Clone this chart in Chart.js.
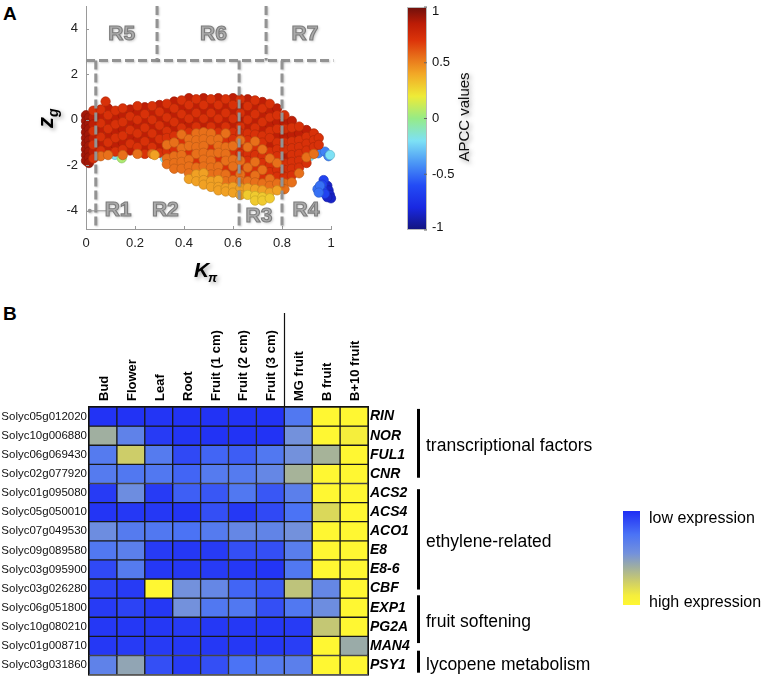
<!DOCTYPE html>
<html>
<head>
<meta charset="utf-8">
<script src="https://cdn.jsdelivr.net/npm/chart.js@4.4.1/dist/chart.umd.min.js"></script>
<style>
  html, body { margin: 0; padding: 0; background: #fff; }
  #page { position: relative; width: 773px; height: 685px; overflow: hidden; font-family: "Liberation Sans", Arial, sans-serif; }
  canvas { position: absolute; }
  .panel { position: absolute; font-weight: bold; font-size: 19px; line-height: 1; color: #000; }
</style>
</head>
<body>
<div id="page">
  <div class="panel" style="left:3px; top:4px">A</div>
  <div class="panel" style="left:3px; top:304px">B</div>
  <canvas id="scatter" width="500" height="290" style="left:0; top:0"></canvas>
  <canvas id="heat" width="773" height="385" style="left:0; top:300px"></canvas>
</div>
<script>
// ---- Panel A data: K_pi (x), z_g (y), grouped by APCC colour ----
const kTicks = [0, 0.2, 0.4, 0.6, 0.8, 1];
const zTicks = [-4, -2, 0, 2, 4];
const apccTicks = [1, 0.5, 0, -0.5, -1];

const wallPts = [
  [0, 0.2], [0, -0.05], [0, -0.3], [0, -0.55], [0, -0.8], [0, -1.05], [0, -1.3], [0, -1.55], [0, -1.8],
  [0.012, 0.1], [0.012, -0.15], [0.012, -0.4], [0.012, -0.65], [0.012, -0.9], [0.012, -1.15], [0.012, -1.4], [0.012, -1.65], [0.012, -1.9]
];
const deepRedPts = [
  [0.03, 0.1], [0.03, -0.2], [0.03, -0.8], [0.03, -1.4],
  [0.06, 0.15], [0.06, -0.45], [0.06, -1.05],
  [0.09, 0.5], [0.09, -0.1], [0.09, -0.7], [0.09, -1.3],
  [0.12, 0.1], [0.12, -0.5], [0.12, -1.1],
  [0.15, 0.2], [0.15, -0.4], [0.15, -1.0],
  [0.18, 0.45], [0.18, -0.15], [0.18, -0.75], [0.18, -1.35],
  [0.21, 0.3], [0.21, -0.3], [0.21, -0.9],
  [0.24, 0.55], [0.24, -0.05], [0.24, -0.65], [0.24, -1.25],
  [0.27, 0.3], [0.27, -0.3], [0.27, -0.9],
  [0.30, 0.65], [0.30, 0.05], [0.30, -0.55], [0.30, -1.15],
  [0.33, 0.4], [0.33, -0.2],
  [0.36, 0.8], [0.36, 0.2], [0.36, -0.4],
  [0.39, 0.55], [0.39, -0.05],
  [0.42, 0.95], [0.42, 0.35], [0.42, -0.25],
  [0.45, 0.6], [0.45, 0.0],
  [0.48, 0.95], [0.48, 0.35], [0.48, -0.25],
  [0.51, 0.6], [0.51, 0.0],
  [0.54, 0.95], [0.54, 0.35], [0.54, -0.25],
  [0.57, 0.6], [0.57, 0.0],
  [0.60, 0.95], [0.60, 0.35], [0.60, -0.25],
  [0.63, 0.6], [0.63, 0.0],
  [0.66, 0.9], [0.66, 0.3], [0.66, -0.3],
  [0.69, 0.55], [0.69, -0.05],
  [0.72, 0.78], [0.72, 0.2], [0.72, -0.4],
  [0.75, 0.4], [0.75, -0.2], [0.75, -1.1],
  [0.78, 0.5], [0.78, -0.1], [0.78, -0.7],
  [0.81, -0.1], [0.81, -0.7], [0.81, -1.6],
  [0.84, -0.05], [0.84, -0.65],
  [0.87, -0.6],
  [0.90, -0.45]
];
const redPts = [
  [0.03, 0.4], [0.03, -0.5], [0.03, -1.1], [0.03, -1.7],
  [0.06, 0.45], [0.06, -0.15], [0.06, -0.75], [0.06, -1.35],
  [0.08, 0.8],
  [0.09, 0.2], [0.09, -0.4], [0.09, -1.0],
  [0.12, 0.4], [0.12, -0.2], [0.12, -0.8], [0.12, -1.4],
  [0.15, 0.5], [0.15, -0.1], [0.15, -0.7], [0.15, -1.3],
  [0.18, 0.15], [0.18, -0.45], [0.18, -1.05],
  [0.21, 0.6], [0.21, 0.0], [0.21, -0.6], [0.21, -1.2],
  [0.24, 0.25], [0.24, -0.35], [0.24, -0.95], [0.24, -1.5],
  [0.27, 0.6], [0.27, 0.0], [0.27, -0.6], [0.27, -1.2],
  [0.30, 0.35], [0.30, -0.25], [0.30, -0.85], [0.30, -1.45],
  [0.33, 0.7], [0.33, 0.1], [0.33, -0.5], [0.33, -0.8], [0.33, -1.4],
  [0.36, 0.5], [0.36, -0.1], [0.36, -0.7], [0.36, -1.3],
  [0.39, 0.85], [0.39, 0.25], [0.39, -0.35], [0.39, -0.95],
  [0.42, 0.65], [0.42, 0.05], [0.42, -0.55], [0.42, -1.45],
  [0.45, 0.9], [0.45, 0.3], [0.45, -0.3], [0.45, -1.8],
  [0.48, 0.65], [0.48, 0.05],
  [0.51, 0.9], [0.51, 0.3], [0.51, -0.3], [0.51, -1.2],
  [0.54, 0.65], [0.54, 0.05], [0.54, -0.55], [0.54, -1.75],
  [0.57, 0.9], [0.57, 0.3], [0.57, -0.3], [0.57, -0.9], [0.57, -2.1],
  [0.60, 0.65], [0.60, 0.05], [0.60, -0.55], [0.60, -0.85], [0.60, -1.45], [0.60, -2.35],
  [0.63, 0.9], [0.63, 0.3], [0.63, -0.3], [0.63, -0.6], [0.63, -1.2], [0.63, -1.5], [0.63, -2.1],
  [0.66, 0.6], [0.66, 0.0], [0.66, -0.6], [0.66, -0.9], [0.66, -1.5], [0.66, -1.8], [0.66, -2.4],
  [0.69, 0.85], [0.69, 0.25], [0.69, -0.35], [0.69, -0.65], [0.69, -1.25], [0.69, -1.55], [0.69, -2.15],
  [0.72, 0.5], [0.72, -0.1], [0.72, -0.7], [0.72, -1.0], [0.72, -1.6], [0.72, -1.9], [0.72, -2.5],
  [0.75, 0.7], [0.75, 0.1], [0.75, -0.5], [0.75, -0.8], [0.75, -1.4], [0.75, -2.0], [0.75, -2.3],
  [0.78, 0.2], [0.78, -0.4], [0.78, -1.0], [0.78, -1.3], [0.78, -1.6], [0.78, -2.2], [0.78, -2.5],
  [0.81, 0.2], [0.81, -0.4], [0.81, -1.0], [0.81, -1.3], [0.81, -1.9], [0.81, -2.2], [0.81, -2.5],
  [0.84, -0.35], [0.84, -0.95], [0.84, -1.25], [0.84, -1.55], [0.84, -1.85], [0.84, -2.15], [0.84, -2.45],
  [0.87, -0.3], [0.87, -0.9], [0.87, -1.2], [0.87, -1.5], [0.87, -1.8], [0.87, -2.1],
  [0.90, -0.75], [0.90, -1.05], [0.90, -1.35], [0.90, -1.9],
  [0.93, -0.6], [0.93, -0.9], [0.93, -1.2],
  [0.95, -0.8], [0.95, -1.1]
];
const orangePts = [
  [0.06, -1.6], [0.09, -1.55], [0.15, -1.55], [0.21, -1.5], [0.27, -1.5],
  [0.33, -1.1], [0.33, -1.7], [0.33, -1.95],
  [0.36, -1.0], [0.36, -1.6], [0.36, -1.9], [0.36, -2.15],
  [0.39, -0.65], [0.39, -1.25], [0.39, -1.55], [0.39, -1.85], [0.39, -2.15],
  [0.42, -0.85], [0.42, -1.15], [0.42, -1.75], [0.42, -2.05], [0.42, -2.35],
  [0.45, -0.6], [0.45, -0.9], [0.45, -1.2], [0.45, -1.5], [0.45, -2.1],
  [0.48, -0.55], [0.48, -0.85], [0.48, -1.15], [0.48, -1.45], [0.48, -1.75], [0.48, -2.05],
  [0.51, -0.6], [0.51, -0.9], [0.51, -1.5], [0.51, -1.8], [0.51, -2.1], [0.51, -2.4],
  [0.54, -0.85], [0.54, -1.15], [0.54, -1.45], [0.54, -2.05], [0.54, -2.35],
  [0.57, -0.6], [0.57, -1.2], [0.57, -1.5], [0.57, -1.8], [0.57, -2.4], [0.57, -2.7],
  [0.60, -1.15], [0.60, -1.75], [0.60, -2.05], [0.60, -2.65],
  [0.63, -0.9], [0.63, -1.8], [0.63, -2.4], [0.63, -2.7],
  [0.66, -1.2], [0.66, -2.1], [0.66, -2.7],
  [0.69, -0.95], [0.69, -1.85], [0.69, -2.45], [0.69, -2.75],
  [0.72, -1.3], [0.72, -2.2], [0.72, -2.8],
  [0.75, -1.7], [0.75, -2.6], [0.75, -2.9],
  [0.78, -1.9], [0.78, -2.8],
  [0.81, -2.8], [0.81, -3.05],
  [0.84, -2.75], [0.87, -2.35], [0.90, -1.65], [0.93, -1.5]
];
const amberPts = [
  [0.28, -1.55], [0.42, -2.6], [0.45, -2.4], [0.45, -2.7], [0.48, -2.35], [0.48, -2.65], [0.48, -2.85],
  [0.51, -2.7], [0.51, -2.95], [0.54, -2.65], [0.54, -2.95], [0.54, -3.1], [0.57, -3.0], [0.57, -3.15],
  [0.60, -2.95], [0.60, -3.2], [0.63, -3.0], [0.63, -3.3], [0.66, -3.0], [0.69, -3.05], [0.72, -3.1],
  [0.75, -3.2], [0.78, -3.1]
];
const yellowPts = [[0.66, -3.3], [0.69, -3.35], [0.69, -3.55], [0.72, -3.4], [0.72, -3.55], [0.75, -3.45]];
const limePts = [[0.146, -1.69]];
const cyanPts = [[0.118, -1.54], [0.322, -1.69], [0.84, -1.54], [0.914, -1.6], [0.996, -1.55]];
const skyPts = [
  [0.302, -1.25], [0.384, -1.4], [0.424, -1.32], [0.71, -1.36], [0.87, -1.33],
  [0.914, -1.46], [0.948, -1.47], [0.975, -1.4], [0.99, -1.6]
];
const bluePts = [
  [0.166, -1.1], [0.384, -0.2], [0.415, 0.18], [0.513, 0.32], [0.377, -0.8], [0.567, -0.66],
  [0.554, -1.0], [0.778, -1.02], [0.75, -0.88], [0.826, -1.0], [0.90, -1.1], [0.578, -0.19]
];
const clusterLight = [[0.945, -3.05], [0.955, -2.9], [0.95, -3.2]];
const clusterMid = [[0.97, -2.65], [0.965, -2.85], [0.965, -3.1], [0.975, -3.25]];
const clusterDark = [[0.985, -2.9], [0.99, -3.1], [0.995, -3.3], [1.0, -3.45], [0.985, -3.4]];

// point group, APCC value (draw order)
const scatterGroups = [
  [yellowPts, 0.3], [amberPts, 0.42], [orangePts, 0.55], [redPts, 0.72], [deepRedPts, 0.84], [wallPts, 0.9],
  [limePts, 0.05], [cyanPts, -0.2], [skyPts, -0.45], [bluePts, -0.78],
  [clusterLight, -0.5], [clusterMid, -0.65], [clusterDark, -0.85]
];

// ---- Panel B data ----
const tissues = ['Bud', 'Flower', 'Leaf', 'Root', 'Fruit (1 cm)', 'Fruit (2 cm)', 'Fruit (3 cm)', 'MG fruit', 'B fruit', 'B+10 fruit'];
const geneIds = ['Solyc05g012020', 'Solyc10g006880', 'Solyc06g069430', 'Solyc02g077920', 'Solyc01g095080', 'Solyc05g050010', 'Solyc07g049530',
  'Solyc09g089580', 'Solyc03g095900', 'Solyc03g026280', 'Solyc06g051800', 'Solyc10g080210', 'Solyc01g008710', 'Solyc03g031860'];
const geneNames = ['RIN', 'NOR', 'FUL1', 'CNR', 'ACS2', 'ACS4', 'ACO1', 'E8', 'E8-6', 'CBF', 'EXP1', 'PG2A', 'MAN4', 'PSY1'];
// relative expression, 0 = low, 1 = high
const expression = [
  [0.02, 0.02, 0.03, 0.02, 0.02, 0.02, 0.02, 0.28, 1, 1],
  [0.6, 0.35, 0.05, 0.03, 0.02, 0.02, 0.02, 0.45, 1, 0.9],
  [0.3, 0.75, 0.3, 0.1, 0.2, 0.17, 0.28, 0.45, 0.62, 1],
  [0.3, 0.28, 0.28, 0.2, 0.3, 0.3, 0.38, 0.62, 1, 1],
  [0.05, 0.42, 0.05, 0.18, 0.15, 0.28, 0.15, 0.33, 1, 1],
  [0.03, 0.04, 0.04, 0.03, 0.12, 0.04, 0.1, 0.25, 0.8, 1],
  [0.42, 0.3, 0.28, 0.25, 0.3, 0.38, 0.36, 0.45, 1, 1],
  [0.28, 0.33, 0.05, 0.04, 0.05, 0.12, 0.12, 0.32, 1, 1],
  [0.1, 0.3, 0.04, 0.04, 0.05, 0.04, 0.03, 0.28, 1, 1],
  [0.08, 0.05, 1, 0.45, 0.38, 0.2, 0.15, 0.7, 0.38, 1],
  [0.05, 0.08, 0.04, 0.45, 0.28, 0.28, 0.12, 0.28, 0.42, 1],
  [0.04, 0.04, 0.04, 0.05, 0.04, 0.04, 0.04, 0.05, 0.72, 1],
  [0.04, 0.05, 0.05, 0.04, 0.04, 0.04, 0.04, 0.06, 1, 0.58],
  [0.35, 0.55, 0.12, 0.05, 0.12, 0.25, 0.3, 0.33, 1, 1]
];
const groupNames = ['transcriptional factors', 'ethylene-related', 'fruit softening', 'lycopene metabolism'];
const groupRows = [[0.1, 3.7], [4.3, 9.55], [9.85, 12.35], [12.75, 13.9]];

// ---- colour ramps ----
const jetStops = [
  [-1, [20, 20, 125]], [-0.8, [25, 40, 225]], [-0.6, [35, 75, 245]], [-0.4, [75, 150, 245]],
  [-0.2, [125, 225, 245]], [0, [150, 235, 135]], [0.2, [238, 235, 55]], [0.4, [242, 168, 38]],
  [0.55, [232, 112, 26]], [0.7, [220, 52, 10]], [0.85, [188, 28, 6]], [1, [110, 16, 12]]
];
const heatStops = [
  [0, [30, 45, 245]], [0.25, [75, 115, 245]], [0.45, [115, 145, 220]], [0.6, [160, 175, 160]],
  [0.75, [205, 205, 105]], [0.9, [245, 238, 60]], [1, [255, 247, 50]]
];
function rampRgb(stops, v) {
  if (v <= stops[0][0]) return stops[0][1];
  for (let i = 1; i < stops.length; i++) {
    const [v1, c1] = stops[i];
    if (v <= v1) {
      const [v0, c0] = stops[i - 1];
      const t = (v - v0) / (v1 - v0);
      return c0.map((c, j) => Math.round(c + (c1[j] - c) * t));
    }
  }
  return stops[stops.length - 1][1];
}
const css = (c, f = 1) => `rgb(${c.map(x => Math.round(x * f)).join(',')})`;

const FONT = '"Liberation Sans", Arial, sans-serif';

// ---- Panel A ----
const regionLines = [
  [0, 2.6, 1.01, 2.6], [0.04, 2.6, 0.04, -4.8], [0.625, 2.6, 0.625, -4.8], [0.8, 2.6, 0.8, -4.8],
  [0.29, 5, 0.29, 2.6], [0.735, 5, 0.735, 2.6]
];
const regionLabels = [
  ['R5', 0.146, 3.75], ['R6', 0.52, 3.75], ['R7', 0.894, 3.75],
  ['R1', 0.131, -3.96], ['R2', 0.324, -3.96], ['R3', 0.706, -4.25], ['R4', 0.898, -3.96]
];

const regionPlugin = {
  id: 'regions',
  afterDatasetsDraw(chart) {
    const { ctx, scales: { x, y }, chartArea } = chart;
    ctx.save();
    // inward tick marks
    ctx.strokeStyle = '#999';
    ctx.lineWidth = 1;
    kTicks.forEach(v => {
      const px = Math.round(x.getPixelForValue(v)) + 0.5;
      ctx.beginPath(); ctx.moveTo(px, chartArea.bottom); ctx.lineTo(px, chartArea.bottom - 3); ctx.stroke();
    });
    zTicks.forEach(v => {
      const py = Math.round(y.getPixelForValue(v)) + 0.5;
      ctx.beginPath(); ctx.moveTo(chartArea.left, py); ctx.lineTo(chartArea.left + 3, py); ctx.stroke();
    });

    // dashed region borders
    ctx.shadowColor = 'rgba(0,0,0,0.2)';
    ctx.shadowBlur = 2;
    ctx.shadowOffsetX = 1;
    ctx.shadowOffsetY = 1;
    ctx.strokeStyle = '#939393';
    ctx.lineWidth = 3;
    ctx.setLineDash([9, 4]);
    regionLines.forEach(([x0, y0, x1, y1]) => {
      ctx.beginPath();
      ctx.moveTo(x.getPixelForValue(x0), y.getPixelForValue(y0));
      ctx.lineTo(x.getPixelForValue(x1), y.getPixelForValue(y1));
      ctx.stroke();
    });
    ctx.setLineDash([]);

    // pointer to R1
    ctx.strokeStyle = '#999';
    ctx.fillStyle = '#999';
    ctx.lineWidth = 1;
    const py = y.getPixelForValue(-4);
    ctx.beginPath(); ctx.arc(x.getPixelForValue(0.015), py, 2, 0, Math.PI * 2); ctx.fill();
    ctx.beginPath(); ctx.moveTo(x.getPixelForValue(0.015), py); ctx.lineTo(x.getPixelForValue(0.095), py); ctx.stroke();

    // region names
    ctx.font = `bold 21px ${FONT}`;
    ctx.textAlign = 'center';
    ctx.textBaseline = 'middle';
    ctx.shadowColor = 'rgba(0,0,0,0.3)';
    ctx.shadowBlur = 3;
    regionLabels.forEach(([t, k, z]) => {
      const px = x.getPixelForValue(k), pz = y.getPixelForValue(z);
      ctx.fillStyle = '#acacac';
      ctx.fillText(t, px, pz);
      ctx.shadowColor = 'transparent';
      ctx.strokeStyle = '#7d7d7d';
      ctx.lineWidth = 1.1;
      ctx.strokeText(t, px, pz);
      ctx.shadowColor = 'rgba(0,0,0,0.3)';
    });
    ctx.restore();
  },
  afterDraw(chart) {
    const { ctx } = chart;
    ctx.save();
    // axis titles
    ctx.shadowColor = 'rgba(0,0,0,0.35)';
    ctx.shadowBlur = 4;
    ctx.shadowOffsetX = 2;
    ctx.shadowOffsetY = 2;
    ctx.fillStyle = '#000';
    ctx.textBaseline = 'alphabetic';
    ctx.textAlign = 'left';
    ctx.font = `italic bold 21px ${FONT}`;
    ctx.fillText('K', 194, 277);
    ctx.font = `italic bold 13px ${FONT}`;
    ctx.fillText('\u03C0', 208, 282);

    ctx.translate(53, 128);
    ctx.rotate(-Math.PI / 2);
    ctx.font = `italic bold 22px ${FONT}`;
    ctx.fillText('z', 0, 0);
    ctx.font = `italic bold 14px ${FONT}`;
    ctx.fillText('g', 11, 5);
    ctx.restore();

    // colour bar
    ctx.save();
    const cbL = 407, cbT = 7, cbW = 20, cbH = 223;
    const grad = ctx.createLinearGradient(0, cbT, 0, cbT + cbH);
    jetStops.forEach(([v, c]) => grad.addColorStop((1 - v) / 2, css(c)));
    ctx.fillStyle = grad;
    ctx.fillRect(cbL, cbT, cbW, cbH);
    ctx.strokeStyle = '#bbb';
    ctx.lineWidth = 1;
    ctx.strokeRect(cbL + 0.5, cbT + 0.5, cbW - 1, cbH - 1);
    ctx.fillStyle = '#111';
    ctx.font = `13px ${FONT}`;
    ctx.textAlign = 'left';
    ctx.textBaseline = 'middle';
    apccTicks.forEach(v => {
      const ty = cbT + (1 - v) / 2 * cbH;
      ctx.strokeStyle = '#666';
      ctx.beginPath(); ctx.moveTo(cbL + cbW - 3, ty); ctx.lineTo(cbL + cbW, ty); ctx.stroke();
      ctx.fillText(String(v), cbL + cbW + 5, Math.min(Math.max(ty, cbT + 4), cbT + cbH - 3));
    });
    ctx.shadowColor = 'rgba(0,0,0,0.35)';
    ctx.shadowBlur = 4;
    ctx.shadowOffsetX = 2;
    ctx.shadowOffsetY = 2;
    ctx.translate(465, 117);
    ctx.rotate(-Math.PI / 2);
    ctx.textAlign = 'center';
    ctx.font = `15px ${FONT}`;
    ctx.fillText('APCC values', 0, 0);
    ctx.restore();
  }
};

new Chart(document.getElementById('scatter'), {
  type: 'scatter',
  data: {
    datasets: scatterGroups.map(([pts, apcc]) => {
      const c = rampRgb(jetStops, apcc);
      return {
        data: pts.map(([k, z]) => ({ x: k, y: z })),
        backgroundColor: css(c),
        borderColor: css(c, 0.82),
        borderWidth: 0.7,
        pointRadius: 4.7,
        clip: false
      };
    })
  },
  options: {
    responsive: false,
    animation: false,
    layout: { padding: { left: 0, top: 6, right: 169, bottom: 0 } },
    plugins: { legend: { display: false }, tooltip: { enabled: false } },
    scales: {
      x: {
        type: 'linear', min: 0, max: 1,
        afterBuildTicks: axis => { axis.ticks = kTicks.map(v => ({ value: v })); },
        afterFit: scale => { scale.height = 61; scale.paddingLeft = 0; scale.paddingRight = 0; },
        grid: { display: false, drawTicks: false },
        border: { color: '#9a9a9a' },
        ticks: { color: '#222', padding: 7, font: { family: FONT, size: 13 }, callback: v => String(v) }
      },
      y: {
        type: 'linear', min: -4.8, max: 5,
        afterBuildTicks: axis => { axis.ticks = zTicks.map(v => ({ value: v })); },
        afterFit: scale => { scale.width = 86; scale.paddingTop = 0; scale.paddingBottom = 0; },
        grid: { display: false, drawTicks: false },
        border: { color: '#9a9a9a' },
        ticks: { color: '#222', padding: 8, font: { family: FONT, size: 13 }, callback: v => String(v) }
      }
    }
  },
  plugins: [regionPlugin]
});

// ---- Panel B ----
const heatPlugin = {
  id: 'heatExtras',
  afterDraw(chart) {
    const { ctx, chartArea, scales: { x, y } } = chart;
    ctx.save();
    // outline
    ctx.strokeStyle = '#111';
    ctx.lineWidth = 1;
    ctx.strokeRect(chartArea.left - 0.5, chartArea.top - 0.5, chartArea.width + 1, chartArea.height + 1);
    // separator between tissues and ripening stages
    const sx = Math.round(x.getPixelForValue(6.5)) + 0.5;
    ctx.lineWidth = 1.2;
    ctx.beginPath(); ctx.moveTo(sx, 13); ctx.lineTo(sx, chartArea.top); ctx.stroke();

    // column labels, rotated
    ctx.fillStyle = '#000';
    ctx.font = `bold 13px ${FONT}`;
    ctx.textAlign = 'left';
    ctx.textBaseline = 'alphabetic';
    tissues.forEach((t, i) => {
      ctx.save();
      ctx.translate(x.getPixelForValue(i) + 5, chartArea.top - 6);
      ctx.rotate(-Math.PI / 2);
      ctx.fillText(t, 0, 0);
      ctx.restore();
    });

    // group brackets
    ctx.font = `17.5px ${FONT}`;
    ctx.textBaseline = 'middle';
    groupRows.forEach(([r0, r1], i) => {
      const y0 = y.getPixelForValue(r0), y1 = y.getPixelForValue(r1);
      ctx.fillRect(417, y0, 3, y1 - y0);
      ctx.fillText(groupNames[i], 426, (y0 + y1) / 2 + 3);
    });

    // expression legend
    const lx = 623, lt = 211, lw = 17, lh = 94;
    const grad = ctx.createLinearGradient(0, lt, 0, lt + lh);
    heatStops.forEach(([v, c]) => grad.addColorStop(v, css(c)));
    ctx.fillStyle = grad;
    ctx.fillRect(lx, lt, lw, lh);
    ctx.fillStyle = '#000';
    ctx.font = `16px ${FONT}`;
    ctx.fillText('low expression', 649, 219);
    ctx.fillText('high expression', 649, 303);
    ctx.restore();
  }
};

new Chart(document.getElementById('heat'), {
  type: 'bar',
  data: {
    labels: tissues,
    datasets: expression.map((row, i) => ({
      label: geneNames[i],
      data: row.map(() => [i, i + 1]),
      backgroundColor: row.map(v => css(rampRgb(heatStops, v)))
    }))
  },
  options: {
    responsive: false,
    animation: false,
    layout: { padding: { left: 0, top: 0, right: 345, bottom: 7 } },
    datasets: {
      bar: { grouped: false, barPercentage: 1, categoryPercentage: 1, borderColor: '#1a1a1a', borderWidth: 1, borderSkipped: false }
    },
    plugins: { legend: { display: false }, tooltip: { enabled: false } },
    scales: {
      x: {
        position: 'top',
        afterFit: scale => { scale.height = 107; scale.paddingLeft = 0; scale.paddingRight = 0; },
        grid: { display: false, drawTicks: false },
        border: { display: false },
        ticks: { display: false }
      },
      y: {
        min: 0, max: 14, reverse: true,
        afterBuildTicks: axis => { axis.ticks = geneIds.map((_, i) => ({ value: i + 0.5 })); },
        afterFit: scale => { scale.width = 89; },
        grid: { display: false, drawTicks: false },
        border: { display: false },
        ticks: { color: '#111', padding: 2, autoSkip: false, font: { family: FONT, size: 11.5 }, callback: (v, i) => geneIds[i] }
      },
      y2: {
        position: 'right',
        min: 0, max: 14, reverse: true,
        afterBuildTicks: axis => { axis.ticks = geneNames.map((_, i) => ({ value: i + 0.5 })); },
        afterFit: scale => { scale.width = 60; },
        grid: { display: false, drawTicks: false },
        border: { display: false },
        ticks: { color: '#000', padding: 2, autoSkip: false, font: { family: FONT, size: 14, weight: 'bold', style: 'italic' }, callback: (v, i) => geneNames[i] }
      }
    }
  },
  plugins: [heatPlugin]
});
</script>
</body>
</html>
